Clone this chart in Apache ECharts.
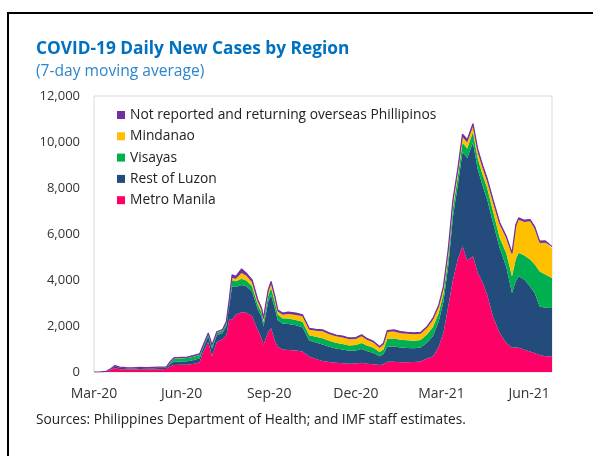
<!DOCTYPE html>
<html>
<head>
<meta charset="utf-8">
<script src="https://cdn.jsdelivr.net/npm/echarts@6/dist/echarts.min.js"></script>
<style>
    html, body {margin: 0; padding: 0; background: #fff;}
    #frame {position: absolute; left: 7px; top: 12px; width: 700px; height: 600px; border-left: 2px solid #000; border-top: 2px solid #000;}
    #chart {position: absolute; left: 0; top: 0; width: 593px; height: 456px;}
</style>
</head>
<body>
<div id="frame"></div>
<div id="chart"></div>
<script>
// 7-day moving averages, stacked bottom to top
const dates = [
    '2020-03-01', '2020-03-08', '2020-03-14', '2020-03-19', '2020-03-23', '2020-03-28', '2020-04-04', '2020-04-11',
    '2020-04-18', '2020-04-25', '2020-05-02', '2020-05-09', '2020-05-16', '2020-05-20', '2020-05-24', '2020-05-31',
    '2020-06-07', '2020-06-14', '2020-06-20', '2020-06-23', '2020-06-29', '2020-07-03', '2020-07-08', '2020-07-14',
    '2020-07-18', '2020-07-21', '2020-07-24', '2020-07-28', '2020-08-03', '2020-08-08', '2020-08-14', '2020-08-20',
    '2020-08-24', '2020-08-26', '2020-08-31', '2020-09-03', '2020-09-07', '2020-09-10', '2020-09-15', '2020-09-21',
    '2020-09-29', '2020-10-06', '2020-10-13', '2020-10-20', '2020-10-27', '2020-11-03', '2020-11-10', '2020-11-17',
    '2020-11-24', '2020-12-01', '2020-12-07', '2020-12-13', '2020-12-19', '2020-12-26', '2020-12-30', '2021-01-03',
    '2021-01-10', '2021-01-17', '2021-01-24', '2021-01-31', '2021-02-07', '2021-02-14', '2021-02-20', '2021-02-26',
    '2021-03-03', '2021-03-08', '2021-03-13', '2021-03-18', '2021-03-23', '2021-03-28', '2021-04-03', '2021-04-08',
    '2021-04-13', '2021-04-18', '2021-04-24', '2021-05-01', '2021-05-08', '2021-05-14', '2021-05-18', '2021-05-21',
    '2021-05-27', '2021-06-02', '2021-06-07', '2021-06-12', '2021-06-18', '2021-06-25',
];
const metroManila = [
    0, 3, 20, 95, 170, 120, 115, 110, 120, 115, 120, 125, 130, 250, 300, 310,
    320, 360, 420, 800, 1320, 680, 1300, 1420, 1600, 2270, 2270, 2500, 2600, 2580, 2420, 1830,
    1470, 1180, 1760, 1900, 1350, 1100, 980, 960, 930, 890, 670, 560, 480, 440, 400, 380,
    360, 370, 400, 360, 340, 300, 330, 450, 450, 420, 420, 430, 460, 600, 670, 1100,
    1700, 2850, 4010, 4890, 5470, 4850, 5030, 4310, 3900, 3350, 2410, 1700, 1260, 1050, 1060, 1050,
    970, 890, 820, 740, 690, 670,
];
const restOfLuzon = [
    0, 1, 5, 35, 75, 60, 50, 45, 50, 45, 45, 50, 50, 100, 150, 150,
    150, 160, 180, 170, 230, 330, 300, 280, 400, 600, 1450, 1200, 1180, 1150, 1080, 900,
    930, 800, 1300, 1450, 1400, 1150, 1130, 1130, 1100, 1060, 700, 720, 720, 660, 620, 600,
    560, 560, 600, 540, 500, 390, 450, 650, 660, 640, 620, 600, 600, 680, 900, 1100,
    1350, 1750, 2750, 3200, 4100, 4450, 4950, 4500, 4220, 4140, 4090, 3700, 3300, 2390, 2900, 3110,
    3050, 2830, 2600, 2110, 2100, 2110,
];
const visayas = [
    0, 0, 1, 5, 10, 10, 10, 12, 15, 15, 20, 20, 25, 60, 130, 140,
    140, 150, 140, 90, 100, 120, 100, 100, 130, 170, 270, 250, 270, 250, 230, 200,
    190, 190, 270, 300, 280, 250, 230, 240, 230, 240, 230, 250, 270, 260, 250, 240,
    230, 240, 260, 240, 220, 180, 200, 350, 350, 340, 340, 330, 330, 360, 390, 360,
    350, 350, 380, 380, 400, 420, 450, 470, 480, 500, 500, 450, 600, 720, 950, 1020,
    1050, 1170, 1250, 1520, 1450, 1310,
];
const mindanao = [
    0, 0, 1, 3, 5, 5, 5, 3, 5, 5, 5, 5, 5, 10, 10, 10,
    10, 15, 15, 10, 15, 15, 15, 15, 20, 30, 100, 100, 250, 200, 170, 130,
    120, 110, 150, 170, 170, 130, 150, 190, 220, 230, 240, 260, 300, 280, 280, 280,
    270, 270, 290, 250, 230, 180, 210, 290, 300, 290, 280, 280, 270, 280, 310, 270,
    250, 280, 260, 230, 250, 260, 250, 290, 280, 290, 390, 560, 650, 940, 1410, 1440,
    1450, 1660, 1550, 1240, 1380, 1290,
];
const notReported = [
    0, 1, 3, 12, 20, 15, 10, 10, 10, 10, 10, 10, 10, 30, 30, 30,
    30, 35, 35, 30, 35, 35, 35, 35, 50, 70, 140, 110, 180, 120, 110, 80,
    70, 60, 100, 120, 90, 70, 70, 80, 80, 70, 60, 60, 60, 60, 60, 60,
    60, 60, 70, 60, 60, 50, 60, 60, 70, 70, 60, 60, 60, 60, 70, 70,
    70, 90, 100, 110, 120, 120, 120, 120, 120, 120, 110, 90, 90, 80, 80, 80,
    80, 80, 80, 80, 80, 70,
];

const tickDates = ['2020-03-01', '2020-06-01', '2020-09-01', '2020-12-01', '2021-03-01', '2021-06-01'];
const tickLabels = ['Mar-20', 'Jun-20', 'Sep-20', 'Dec-20', 'Mar-21', 'Jun-21'];
const axisStart = '2020-03-01';
const axisEnd = '2021-06-25';

const toTime = d => {
    const [y, m, day] = d.split('-').map(Number);
    return Date.UTC(y, m - 1, day);
};
const tickTimes = tickDates.map(toTime);
const font = '"Open Sans", "Noto Sans", sans-serif';

const layers = [
    {name: 'Metro Manila', values: metroManila, color: '#FF0066'},
    {name: 'Rest of Luzon', values: restOfLuzon, color: '#234B7C'},
    {name: 'Visayas', values: visayas, color: '#00B050'},
    {name: 'Mindanao', values: mindanao, color: '#FFC000'},
    {name: 'Not reported and returning overseas Phillipinos', values: notReported, color: '#7030A0'},
];

const chart = echarts.init(document.getElementById('chart'), null, {renderer: 'canvas'});
chart.setOption({
    animation: false,
    textStyle: {fontFamily: font},
    title: [
        {
            text: 'COVID-19 Daily New Cases by Region',
            left: 36,
            top: 41,
            padding: 0,
            textStyle: {fontFamily: font, fontSize: 17.3, fontWeight: 'bold', color: '#0070C0'},
        },
        {
            text: '(7-day moving average)',
            left: 36,
            top: 64,
            padding: 0,
            textStyle: {fontFamily: font, fontSize: 15.6, fontWeight: 'normal', color: '#2A86CF'},
        },
        {
            text: 'Sources: Philippines Department of Health; and IMF staff estimates.',
            left: 36,
            top: 413,
            padding: 0,
            textStyle: {fontFamily: font, fontSize: 13.7, fontWeight: 'normal', color: '#222'},
        },
    ],
    legend: {
        orient: 'vertical',
        left: 117,
        top: 108,
        padding: 0,
        itemWidth: 8,
        itemHeight: 8,
        itemGap: 7.3,
        icon: 'rect',
        data: layers.map(l => l.name).reverse(),
        textStyle: {fontFamily: font, fontSize: 13.8, lineHeight: 14, color: '#222'},
    },
    grid: {
        left: 94,
        right: 41,
        top: 96,
        bottom: 84,
        show: true,
        borderColor: '#D9D9D9',
        borderWidth: 1,
    },
    xAxis: [
        {
            // positions the areas
            type: 'time',
            min: toTime(axisStart),
            max: toTime(axisEnd),
            axisLine: {show: false},
            axisTick: {show: false},
            splitLine: {show: false},
            axisLabel: {show: false},
        },
        {
            // same span, only carries the quarter labels
            type: 'value',
            position: 'bottom',
            min: toTime(axisStart),
            max: toTime(axisEnd),
            axisLine: {show: false},
            axisTick: {show: false},
            splitLine: {show: false},
            axisLabel: {
                customValues: tickTimes,
                margin: 15,
                fontSize: 14,
                color: '#333',
                formatter: value => {
                    const i = tickTimes.indexOf(value);
                    return i >= 0 ? tickLabels[i] : '';
                },
            },
        },
    ],
    yAxis: {
        type: 'value',
        min: 0,
        max: 12000,
        interval: 2000,
        axisLine: {show: false},
        axisTick: {show: false},
        splitLine: {show: false},
        axisLabel: {
            margin: 14,
            fontSize: 13,
            color: '#333',
            formatter: v => v.toLocaleString('en-US'),
        },
    },
    series: layers.map((l, idx) => ({
        name: l.name,
        type: 'line',
        xAxisIndex: 0,
        stack: 'cases',
        symbol: 'none',
        color: l.color,
        lineStyle: {width: idx === layers.length - 1 ? 1.2 : 0, color: l.color},
        areaStyle: {color: l.color, opacity: 1},
        data: dates.map((d, i) => [toTime(d), l.values[i]]),
    })),
});
</script>
</body>
</html>
